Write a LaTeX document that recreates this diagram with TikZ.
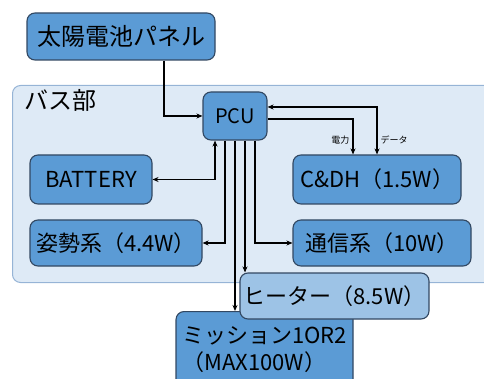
\documentclass[tikz,border=0pt]{standalone}
\usepackage{fontspec}
\setmainfont{Noto Sans CJK JP}
\usetikzlibrary{positioning, arrows.meta}
\definecolor{PanelBlue}{RGB}{91,155,213}
\definecolor{PanelEdge}{RGB}{50,72,98}
\definecolor{HeaterBlue}{RGB}{157,195,230}
\definecolor{BusFill}{RGB}{222,234,246}
\definecolor{BusEdge}{RGB}{150,180,214}
\tikzset{
  blk/.style={draw=PanelEdge, fill=PanelBlue, line width=1.1pt, rounded corners=8pt,
    inner sep=0pt, font=\fontsize{22}{27}\selectfont, align=center},
  heatblk/.style={blk, fill=HeaterBlue},
  busbox/.style={draw=BusEdge, fill=BusFill, line width=1pt, rounded corners=8pt},
  arr/.style={-{Stealth[length=6pt,width=5pt]}, line width=1.3pt},
  biarr/.style={{Stealth[length=6pt,width=5pt]}-{Stealth[length=6pt,width=5pt]}, line width=1.3pt},
  smalltxt/.style={font=\fontsize{9}{10}\selectfont, inner sep=3pt},
}

\begin{document}
\begin{tikzpicture}[x=1pt, y=-1pt]
  \useasboundingbox (0,0) rectangle (484,379);
  % bus section
  \node[busbox, anchor=north west, minimum width=490pt, minimum height=197pt] (bus) at (12,85) {};
  \node[font=\fontsize{24}{28}\selectfont, anchor=west, inner sep=0pt] (buslabel) at (24,100) {バス部};
  % boxes
  \node[blk, minimum width=188pt, minimum height=47pt, font=\fontsize{24}{28}\selectfont] (panel) at (121,36.5) {太陽電池パネル};
  \node[blk, minimum width=64pt, minimum height=48pt, font=\fontsize{20}{24}\selectfont] (pcu) at (235,116) {PCU};
  \node[blk, minimum width=122pt, minimum height=49pt] (battery) at (91,179.5) {BATTERY};
  \node[blk, minimum width=168pt, minimum height=49pt] (cdh) at (377,179.5) {C\&DH（1.5W）};
  \node[blk, minimum width=172pt, minimum height=46pt] (att) at (116,243) {姿勢系（4.4W）};
  \node[blk, minimum width=178pt, minimum height=46pt] (comm) at (382,243) {通信系（10W）};
  \node[blk, anchor=north, minimum width=177pt, minimum height=76pt, align=left] (mission) at (264.5,311)
    {ミッション1OR2\\（MAX100W）};
  \node[heatblk, minimum width=189pt, minimum height=46pt] (heater) at (334.5,296) {ヒーター（8.5W）};
  % connections
  \draw[arr] ([xshift=43pt]panel.south) |- (pcu.west);
  \draw[biarr] ([yshift=9pt]pcu.east) -| (cdh.north) node[smalltxt, right, pos=0.85] (datalabel) {データ};
  \draw[arr] ([yshift=-3pt]pcu.east) -| ([xshift=-24pt]cdh.north) node[smalltxt, left, pos=0.8] (pwrlabel) {電力};
  \draw[biarr] ([xshift=-20pt]pcu.south) |- (battery.east);
  \draw[arr] ([xshift=-10pt]pcu.south) |- (att.east);
  \draw[arr] ([xshift=20pt]pcu.south) |- (comm.west);
  \draw[arr] (pcu.south) -- (pcu.south |- mission.north);
  \draw[arr] ([xshift=10pt]pcu.south) -- ([xshift=10pt]pcu.south |- heater.north);
\end{tikzpicture}
\end{document}
